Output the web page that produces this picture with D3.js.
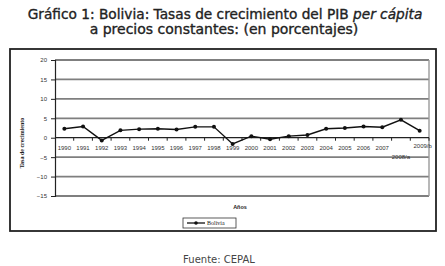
<!DOCTYPE html>
<html><head><meta charset="utf-8">
<script src="https://cdn.jsdelivr.net/npm/d3@7"></script>
<style>html,body{margin:0;padding:0;background:#fff;}svg{display:block;}</style>
</head><body>
<svg id="c" width="445" height="266"></svg>
<script>
const categories = ["1990","1991","1992","1993","1994","1995","1996","1997","1998","1999","2000","2001","2002","2003","2004","2005","2006","2007","2008/a","2009/b"];
const bolivia = [2.3, 2.9, -0.7, 1.9, 2.2, 2.3, 2.1, 2.8, 2.8, -1.6, 0.4, -0.4, 0.4, 0.7, 2.3, 2.5, 2.9, 2.7, 4.6, 1.8];
const yTicks = [20, 15, 10, 5, 0, -5, -10, -15];
const seriesName = "Bolivia";

const svg = d3.select("#c");

// Title
const t1 = svg.append("text").attr("x", 225).attr("y", 19).attr("text-anchor","middle")
  .attr("font-family","'DejaVu Sans', sans-serif").attr("font-size",12.5).attr("fill","#222")
  .attr("stroke","#222").attr("stroke-width",0.35);
t1.append("tspan").text("Gráfico 1: Bolivia: Tasas de crecimiento del PIB ");
t1.append("tspan").attr("font-style","italic").text("per cápita");
const t2 = svg.append("text").attr("x", 224).attr("y", 34).attr("text-anchor","middle")
  .attr("font-family","'DejaVu Sans', sans-serif").attr("font-size",12.5).attr("fill","#222")
  .attr("stroke","#222").attr("stroke-width",0.35)
  .text("a precios constantes: (en porcentajes)");
function fit(sel, w){ const cur = sel.node().getComputedTextLength(); const fs = +sel.attr("font-size"); sel.attr("font-size", fs*w/cur); }
fit(t1, 395); fit(t2, 269);

// outer frame
svg.append("rect").attr("x",10).attr("y",49).attr("width",426).attr("height",182)
  .attr("fill","none").attr("stroke","#222").attr("stroke-width",1.8);

const x = d3.scaleBand().domain(categories).range([55, 429]).padding(0);
const y = d3.scaleLinear().domain([-15, 20]).range([196, 60]);

// gridlines
svg.append("g").selectAll("line").data(yTicks.filter(d => d !== 0)).join("line")
  .attr("x1", 55).attr("x2", 429).attr("y1", d => y(d)).attr("y2", d => y(d))
  .attr("stroke","#7f7f7f").attr("stroke-width",1.8);
svg.append("line").attr("x1",429).attr("x2",429).attr("y1",y(20)).attr("y2",y(-15))
  .attr("stroke","#9a9a9a").attr("stroke-width",1.4);

// y axis
const yAxis = d3.axisLeft(y).tickValues(yTicks).tickSize(4).tickPadding(4).tickFormat(d3.format("d"));
const gy = svg.append("g").attr("transform","translate(55,0)").call(yAxis);
gy.select(".domain").attr("stroke","#222").attr("stroke-width",1.2);
gy.selectAll(".tick line").attr("stroke","#222");
gy.selectAll(".tick text").attr("font-family","'Liberation Sans', Arial, sans-serif").attr("font-size",6).attr("fill","#333");

// x axis at 0
const gx = svg.append("g").attr("transform",`translate(0,${y(0)})`);
gx.append("line").attr("x1",55).attr("x2",429).attr("y1",0).attr("y2",0).attr("stroke","#222").attr("stroke-width",1.2);
const bounds = categories.map(c => x(c) + x.bandwidth());
gx.selectAll("line.tk").data(bounds).join("line").attr("class","tk")
  .attr("x1", d => d).attr("x2", d => d).attr("y1",0).attr("y2",3).attr("stroke","#222");
gx.selectAll("text").data(categories).join("text")
  .attr("x", d => x(d) + x.bandwidth()/2 + (d === "2009/b" ? 3 : 0))
  .attr("y", d => d === "2008/a" ? 21 : (d === "2009/b" ? 10 : 12))
  .attr("text-anchor","middle")
  .attr("font-family","'Liberation Sans', Arial, sans-serif").attr("font-size",6).attr("fill","#333")
  .text(d => d);

// line
const line = d3.line().x((d,i) => x(categories[i]) + x.bandwidth()/2).y(d => y(d));
svg.append("path").datum(bolivia).attr("d", line).attr("fill","none").attr("stroke","#111").attr("stroke-width",1.4);
svg.append("g").selectAll("circle").data(bolivia).join("circle")
  .attr("cx",(d,i) => x(categories[i]) + x.bandwidth()/2).attr("cy", d => y(d)).attr("r",2).attr("fill","#111");

// axis titles
svg.append("text").attr("transform","translate(24,143) rotate(-90)").attr("text-anchor","middle")
  .attr("font-family","'Liberation Serif', 'Times New Roman', serif").attr("font-weight","bold").attr("font-size",6).attr("fill","#222")
  .text("Tasa de crecimiento");
svg.append("text").attr("x",240).attr("y",209).attr("text-anchor","middle")
  .attr("font-family","'Liberation Sans', Arial, sans-serif").attr("font-weight","bold").attr("font-size",5.5).attr("fill","#222")
  .text("Años");

// legend
const lg = svg.append("g");
lg.append("rect").attr("x",183).attr("y",218).attr("width",53).attr("height",10).attr("fill","#fff").attr("stroke","#333").attr("stroke-width",0.8);
lg.append("line").attr("x1",187).attr("x2",205).attr("y1",223).attr("y2",223).attr("stroke","#111").attr("stroke-width",1.3);
lg.append("circle").attr("cx",196).attr("cy",223).attr("r",1.8).attr("fill","#111");
lg.append("text").attr("x",207).attr("y",225.2).attr("font-family","'Liberation Serif', serif").attr("font-size",6).attr("fill","#222").text(seriesName);

// source
svg.append("text").attr("x",219).attr("y",263).attr("text-anchor","middle")
  .attr("font-family","'DejaVu Sans', sans-serif").attr("font-size",10).attr("fill","#444").text("Fuente: CEPAL");
</script>
</body></html>
